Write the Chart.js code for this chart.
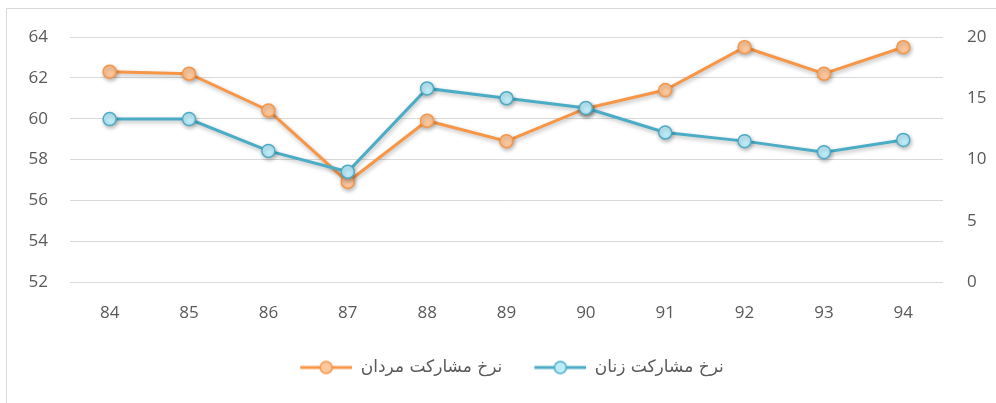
<!DOCTYPE html>
<html>
<head>
<meta charset="utf-8">
<script src="https://cdn.jsdelivr.net/npm/chart.js@4.4.0/dist/chart.umd.min.js"></script>
<style>
  body { margin: 0; background: #fff; overflow: hidden; width: 996px; height: 403px; position: relative; }
  #frame { position: absolute; left: 6px; top: 8px; width: 1010px; height: 420px; border: 1px solid #d9d9d9; }
  #wrap { position: absolute; left: 0; top: 0; width: 996px; height: 403px; }
</style>
</head>
<body>
<div id="frame"></div>
<div id="wrap"><canvas id="rateChart" width="996" height="403"></canvas></div>
<script>
// years (Persian calendar, short form)
const years = ["84", "85", "86", "87", "88", "89", "90", "91", "92", "93", "94"];
// men participation rate -> left axis
const menRate = [62.3, 62.2, 60.4, 56.9, 59.9, 58.9, 60.5, 61.4, 63.5, 62.2, 63.5];
// women participation rate -> right axis
const womenRate = [13.3, 13.3, 10.7, 9.0, 15.8, 15.0, 14.2, 12.2, 11.5, 10.6, 11.6];
const menLabel = "نرخ مشارکت مردان";
const womenLabel = "نرخ مشارکت زنان";

const orange = "#f79646";
const orangeFill = "#fcc79c";
const blue = "#4bacc6";
const blueFill = "#bdebf8";
const textGray = "#595959";

// small canvas used as legend symbol: line with a circle in the middle
// (left part is left empty so the items sit further apart)
function legendSymbol(lineColor, fillColor){
  let gap = 22;
  let c = document.createElement("canvas");
  c.width = 52 + gap;
  c.height = 16;
  let g = c.getContext("2d");
  g.strokeStyle = lineColor;
  g.lineWidth = 3;
  g.beginPath();
  g.moveTo(gap, 8);
  g.lineTo(gap + 52, 8);
  g.stroke();
  g.beginPath();
  g.arc(gap + 26, 8, 6, 0, Math.PI * 2);
  g.fillStyle = fillColor;
  g.fill();
  g.lineWidth = 1.5;
  g.stroke();
  return c;
}
const symbols = {};
symbols[menLabel] = legendSymbol(orange, orangeFill);
symbols[womenLabel] = legendSymbol(blue, blueFill);

// soft drop shadow like the office chart
const shadowPlugin = {
  id: "shadow",
  beforeDatasetsDraw(chart){
    let ctx = chart.ctx;
    ctx.save();
    ctx.shadowColor = "rgba(0,0,0,0.28)";
    ctx.shadowBlur = 4;
    ctx.shadowOffsetX = 1;
    ctx.shadowOffsetY = 2;
  },
  afterDatasetsDraw(chart){
    chart.ctx.restore();
  }
};

// legend is centred a bit to the right of the canvas centre
const legendShift = {
  id: "legendShift",
  afterUpdate(chart){
    chart.legend.left += 6;
  }
};

const tickFont = { family: "'Open Sans', 'DejaVu Sans', sans-serif", size: 17 };

new Chart(document.getElementById("rateChart"), {
  type: "line",
  data: {
    labels: years,
    datasets: [
      {
        label: womenLabel,
        data: womenRate,
        yAxisID: "yRight",
        borderColor: blue,
        backgroundColor: blueFill,
        borderWidth: 3,
        pointRadius: 6.5,
        pointBorderWidth: 1.5,
        pointBorderColor: blue,
        pointBackgroundColor: blueFill,
        tension: 0
      },
      {
        label: menLabel,
        data: menRate,
        yAxisID: "yLeft",
        borderColor: orange,
        backgroundColor: orangeFill,
        borderWidth: 3,
        pointRadius: 6.5,
        pointBorderWidth: 1.5,
        pointBorderColor: orange,
        pointBackgroundColor: orangeFill,
        tension: 0
      }
    ]
  },
  options: {
    responsive: false,
    animation: false,
    maintainAspectRatio: false,
    layout: { padding: { top: 37, bottom: 17, left: 0, right: 0 } },
    scales: {
      x: {
        offset: true,
        grid: { display: false, drawTicks: false },
        border: { display: false },
        ticks: { color: textGray, font: tickFont, padding: 21 },
        afterFit(axis){ axis.height = 67; }
      },
      yLeft: {
        position: "left",
        min: 52,
        max: 64,
        ticks: { stepSize: 2, color: textGray, font: tickFont, padding: 22 },
        grid: { color: "#d9d9d9", lineWidth: 1, drawTicks: false },
        border: { display: false },
        afterFit(axis){ axis.width = 70; }
      },
      yRight: {
        position: "right",
        min: 0,
        max: 20,
        ticks: { stepSize: 5, color: textGray, font: tickFont, padding: 24 },
        grid: { display: false, drawTicks: false },
        border: { display: false },
        afterFit(axis){ axis.width = 53; }
      }
    },
    plugins: {
      legend: {
        position: "bottom",
        reverse: true,
        labels: {
          usePointStyle: true,
          pointStyleWidth: 74,
          padding: 10,
          color: textGray,
          font: { family: "'DejaVu Sans', sans-serif", size: 17 },
          generateLabels(chart){
            let items = Chart.defaults.plugins.legend.labels.generateLabels(chart);
            items.forEach((item) => { item.pointStyle = symbols[item.text]; });
            return items;
          }
        }
      },
      tooltip: { enabled: false }
    }
  },
  plugins: [shadowPlugin, legendShift]
});
</script>
</body>
</html>
